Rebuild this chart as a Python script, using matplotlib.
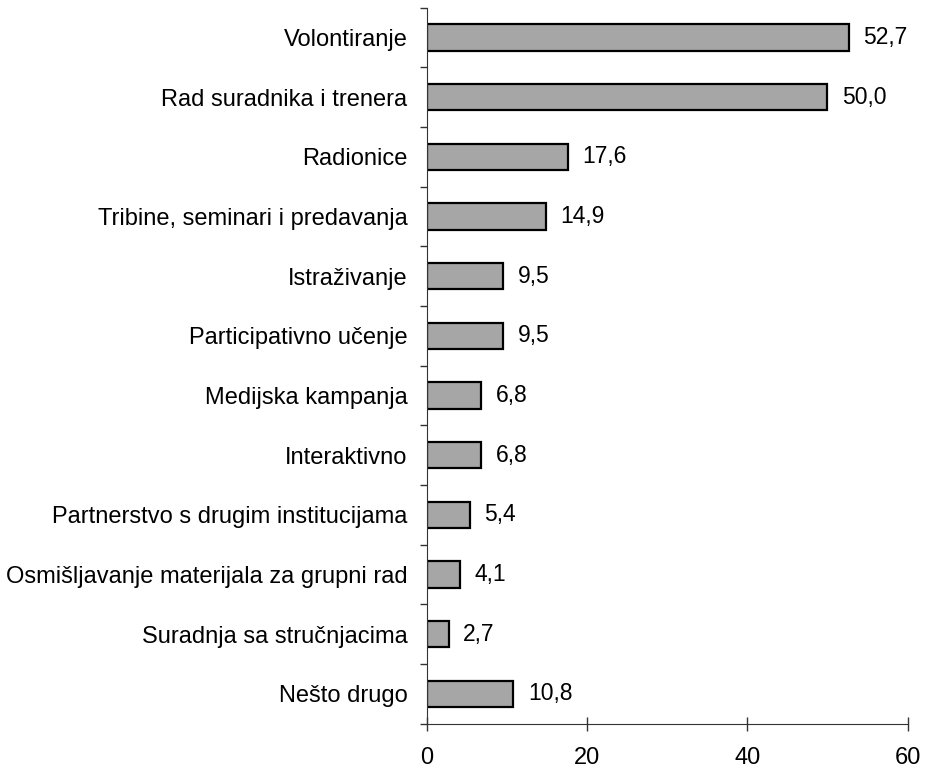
import matplotlib
matplotlib.use("Agg")
import matplotlib.pyplot as plt
import numpy as np

# Kategorije i postoci
categories = ["Volontiranje", "Rad suradnika i trenera", "Radionice",
              "Tribine, seminari i predavanja", "Istraživanje",
              "Participativno učenje", "Medijska kampanja", "Interaktivno",
              "Partnerstvo s drugim institucijama",
              "Osmišljavanje materijala za grupni rad",
              "Suradnja sa stručnjacima", "Nešto drugo"]
values = [52.7, 50.0, 17.6, 14.9, 9.5, 9.5, 6.8, 6.8, 5.4, 4.1, 2.7, 10.8]
x_ticks = [0, 20, 40, 60]

plt.rcParams['font.family'] = ['Liberation Sans', 'DejaVu Sans']

fig = plt.figure(figsize=(9.28, 7.70), dpi=100)
ax = fig.add_axes([0.460, 0.060, 0.518, 0.930])

y = np.arange(len(categories))
ax.barh(y, values, height=0.44, color="#a6a6a6", edgecolor="black", linewidth=1.6)

for yi, v in zip(y, values):
    ax.text(v + 1.8, yi, f"{v:.1f}".replace(".", ","), va="center", ha="left", fontsize=16.5)

ax.set_ylim(len(categories) - 0.5, -0.5)
ax.set_xlim(0, 60)
ax.set_yticks(y)
ax.set_yticklabels(categories, fontsize=17)
ax.set_yticks(np.arange(-0.5, len(categories), 1), minor=True)
ax.tick_params(axis="y", which="major", length=0, pad=14)
ax.tick_params(axis="y", which="minor", length=5, width=1, color="#333333")

ax.set_xticks(x_ticks)
ax.tick_params(axis="x", direction="inout", length=10, width=1, color="#333333",
               pad=12, labelsize=17)

for s in ["top", "right"]:
    ax.spines[s].set_visible(False)
ax.spines["left"].set_color("#333333")
ax.spines["bottom"].set_color("#333333")

fig.savefig("out.png", dpi=100)
